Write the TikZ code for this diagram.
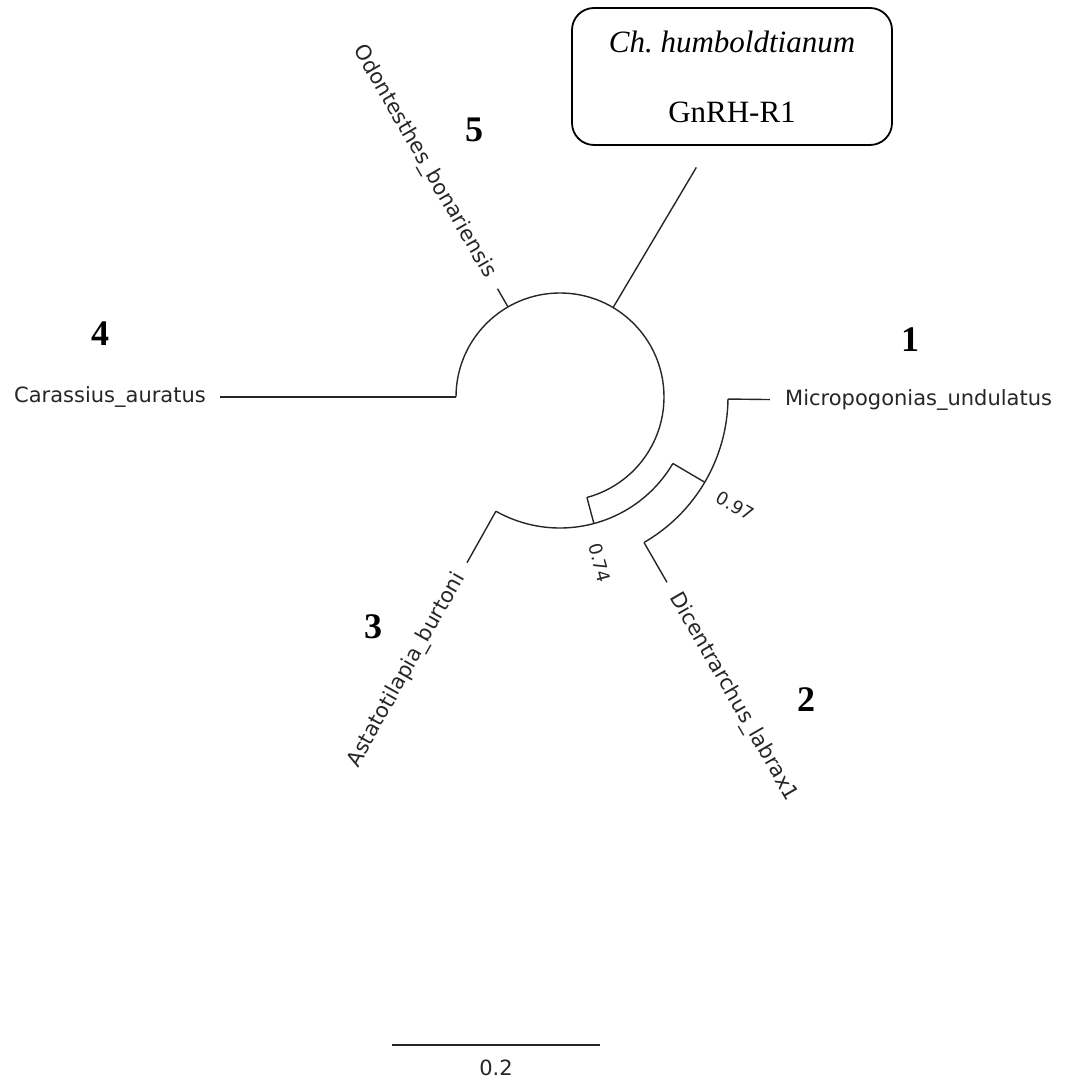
\documentclass[tikz,border=0pt]{standalone}
\usepackage{fontspec}
\setmainfont{Liberation Serif}
\newfontfamily\labfont{DejaVu Sans}
\usetikzlibrary{calc}
\frenchspacing
\begin{document}
\begin{tikzpicture}[x=1pt,y=1pt,
  branch/.style={line width=1.4pt, draw=black!85},
  taxon/.style={font={\labfont\fontsize{21}{25}\selectfont}, inner sep=0pt, text=black!85},
  support/.style={font={\labfont\fontsize{18}{20}\selectfont}, inner sep=0pt, text=black!85},
  cladenum/.style={font={\fontsize{36}{40}\selectfont\bfseries}, inner sep=0pt},
  namebox/.style={draw, line width=1.8pt, rounded corners=22pt, minimum width=320pt, minimum height=137pt, align=center, inner sep=0pt, font={\fontsize{31}{70}\selectfont}},
  scalebar/.style={line width=2.2pt, draw=black!85}
]
\useasboundingbox (0,0) rectangle (1065,1082);

\coordinate (C) at (560,685);
% root arc and its children
\path (C) ++(180:104) coordinate (a4);
\path (C) ++(180:340) coordinate (t4);
\path (C) ++(120:104) coordinate (a5);
\path (C) ++(120:125) coordinate (t5);
\path (C) ++(59.3:104) coordinate (ah);
\path (C) ++(59.3:267) coordinate (th);
\path (C) ++(-75:104) coordinate (a74);
\path (C) ++(-75:131) coordinate (n74);
% 0.74 clade
\path (C) ++(-119.3:131) coordinate (b3);
\path (C) ++(-119.3:190) coordinate (t3);
\path (C) ++(-30.5:131) coordinate (b97);
\path (C) ++(-30.5:168) coordinate (n97);
% 0.97 clade
\path (C) ++(-0.7:168) coordinate (b1);
\path (C) ++(-0.7:210) coordinate (t1);
\path (C) ++(-60:168) coordinate (b2);
\path (C) ++(-60:214) coordinate (t2);

\draw[branch] (a4) arc[start angle=180, end angle=-75, radius=104];
\draw[branch] (b3) arc[start angle=-119.3, end angle=-30.5, radius=131];
\draw[branch] (b1) arc[start angle=-0.7, end angle=-60, radius=168];

\draw[branch] (a4) -- (t4);
\draw[branch] (a5) -- (t5);
\draw[branch] (ah) -- (th);
\draw[branch] (a74) -- (n74);
\draw[branch] (b3) -- (t3);
\draw[branch] (b97) -- (n97);
\draw[branch] (b1) -- (t1);
\draw[branch] (b2) -- (t2);

% taxon labels
\path (C) ++(180:354) node[taxon, anchor=east] (lab4) {Carassius\_auratus};
\path (C) ++(120:139) node[taxon, anchor=east, rotate=-60] (lab5) {Odontesthes\_bonariensis};
\path (C) ++(-119.3:204) node[taxon, anchor=east, rotate=60.7] (lab3) {Astatotilapia\_burtoni};
\path (C) ++(-0.7:225) node[taxon, anchor=west] (lab1) {Micropogonias\_undulatus};
\path (C) ++(-60:228) node[taxon, anchor=west, rotate=-60] (lab2) {Dicentrarchus\_labrax1};

% support values
\node[support, rotate=-75] (s74) at (600,519) {0.74};
\node[support, rotate=-30] (s97) at (735,576) {0.97};

% clade numbers
\node[cladenum] (n1) at (910,742) {1};
\node[cladenum] (n2) at (806,382) {2};
\node[cladenum] (n3) at (373,455) {3};
\node[cladenum] (n4) at (100,748) {4};
\node[cladenum] (n5) at (474,952) {5};

% species box
\node[namebox] (box) at (732,1005.5) {\textit{Ch.\ humboldtianum}\\GnRH-R1};

% scale bar
\coordinate (sb1) at (392,37);
\coordinate (sb2) at (600,37);
\draw[scalebar] (sb1) -- (sb2);
\node[taxon] (sblab) at (496,14) {0.2};
\end{tikzpicture}
\end{document}
